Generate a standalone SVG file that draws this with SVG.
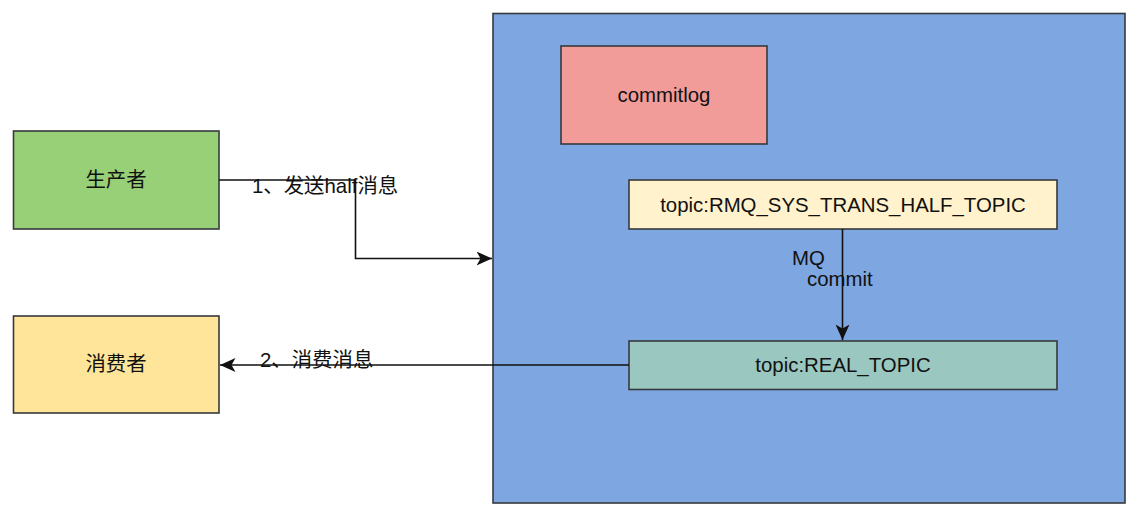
<svg xmlns="http://www.w3.org/2000/svg" width="1140" height="518" viewBox="0 0 1140 518">
  <style>
    .box { stroke: #36393d; stroke-width: 1.6; }
    .lbl { font-family: "Liberation Sans", "Noto Sans CJK SC", sans-serif; font-size: 20.4px; fill: #111111; }
    .mid { text-anchor: middle; }
    .edge { fill: none; stroke: #111111; stroke-width: 1.6; }
  </style>
  <defs>
    <marker id="arrow" markerUnits="userSpaceOnUse" markerWidth="17" markerHeight="15" refX="15.5" refY="7" orient="auto">
      <path d="M0,0 L15.5,7 L0,14 L4,7 Z" fill="#111111"/>
    </marker>
  </defs>
  <rect width="1140" height="518" fill="#ffffff"/>

  <g id="broker">
    <rect class="box" x="493" y="13.5" width="632" height="489.5" fill="#7EA6E0"/>
  </g>
  <g id="producer">
    <rect class="box" x="13.5" y="131" width="205.5" height="98" fill="#97D077"/>
    <text class="lbl mid" x="116" y="187">生产者</text>
  </g>
  <g id="consumer">
    <rect class="box" x="13.5" y="316" width="205.5" height="97" fill="#FFE599"/>
    <text class="lbl mid" x="116" y="371">消费者</text>
  </g>
  <g id="commitlog">
    <rect class="box" x="561" y="46" width="206" height="98" fill="#F19C99"/>
    <text class="lbl mid" x="664" y="102">commitlog</text>
  </g>
  <g id="half-topic">
    <rect class="box" x="629" y="180" width="428" height="49" fill="#FFF2CC"/>
    <text class="lbl mid" x="843" y="212">topic:RMQ_SYS_TRANS_HALF_TOPIC</text>
  </g>
  <g id="real-topic">
    <rect class="box" x="629" y="341" width="428" height="48.5" fill="#9AC7BF"/>
    <text class="lbl mid" x="843" y="372">topic:REAL_TOPIC</text>
  </g>

  <g id="connectors">
    <path class="edge" d="M219,180 L355.5,180 L355.5,258.5 L492,258.5" marker-end="url(#arrow)"/>
    <path class="edge" d="M842.5,229 L842.5,340" marker-end="url(#arrow)"/>
    <path class="edge" d="M629,365 L220,365" marker-end="url(#arrow)"/>
    <text class="lbl" x="252" y="193">1、发送half消息</text>
    <text class="lbl" x="260" y="367">2、消费消息</text>
    <text class="lbl" x="792" y="265">MQ</text>
    <text class="lbl" x="807" y="286">commit</text>
  </g>
</svg>
